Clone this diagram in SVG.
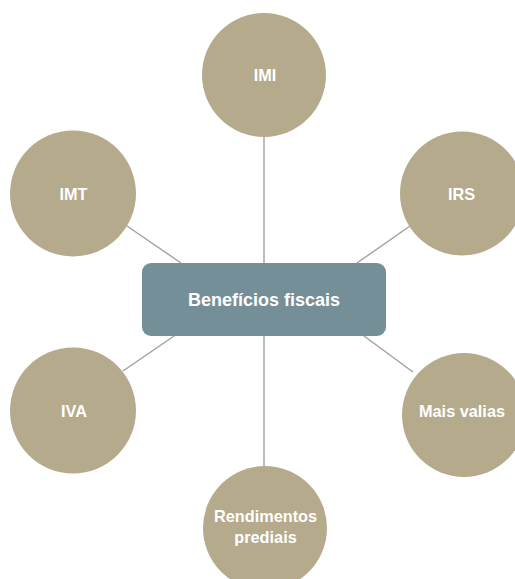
<svg xmlns="http://www.w3.org/2000/svg" width="515" height="579" viewBox="0 0 515 579">
<style>
.c{fill:#b5aa8c;}
.t{font-family:"Liberation Sans",Arial,sans-serif;font-weight:bold;fill:#ffffff;text-anchor:middle;font-size:16.3px;}
.ln{stroke:#a0a0a0;stroke-width:1.4;fill:none;}
</style>
<rect width="515" height="579" fill="#ffffff"/>
<g id="connectors">
<line class="ln" x1="264" y1="137" x2="264" y2="263"/>
<line class="ln" x1="264" y1="336" x2="264" y2="466"/>
<line class="ln" x1="127" y1="226" x2="181" y2="263"/>
<line class="ln" x1="410" y1="226" x2="357" y2="263"/>
<line class="ln" x1="123" y1="371" x2="174" y2="336"/>
<line class="ln" x1="364" y1="336" x2="413" y2="372"/>
</g>
<g id="center">
<rect x="142" y="263" width="244" height="73" rx="9" fill="#758f99"/>
<text class="t" x="264" y="306" style="font-size:18px">Benefícios fiscais</text>
</g>
<g id="imi">
<circle class="c" cx="264" cy="75" r="62"/>
<text class="t" x="265" y="81">IMI</text>
</g>
<g id="imt">
<circle class="c" cx="73" cy="193.5" r="63"/>
<text class="t" x="73.5" y="200">IMT</text>
</g>
<g id="irs">
<circle class="c" cx="462" cy="193.5" r="62"/>
<text class="t" x="461.5" y="200">IRS</text>
</g>
<g id="iva">
<circle class="c" cx="73" cy="410.5" r="63"/>
<text class="t" x="74" y="417">IVA</text>
</g>
<g id="mais-valias">
<circle class="c" cx="464" cy="415" r="62"/>
<text class="t" x="462" y="417">Mais valias</text>
</g>
<g id="rendimentos">
<circle class="c" cx="265" cy="528" r="62"/>
<text class="t" x="265.5" y="522">Rendimentos</text>
<text class="t" x="265.5" y="543">prediais</text>
</g>
</svg>
